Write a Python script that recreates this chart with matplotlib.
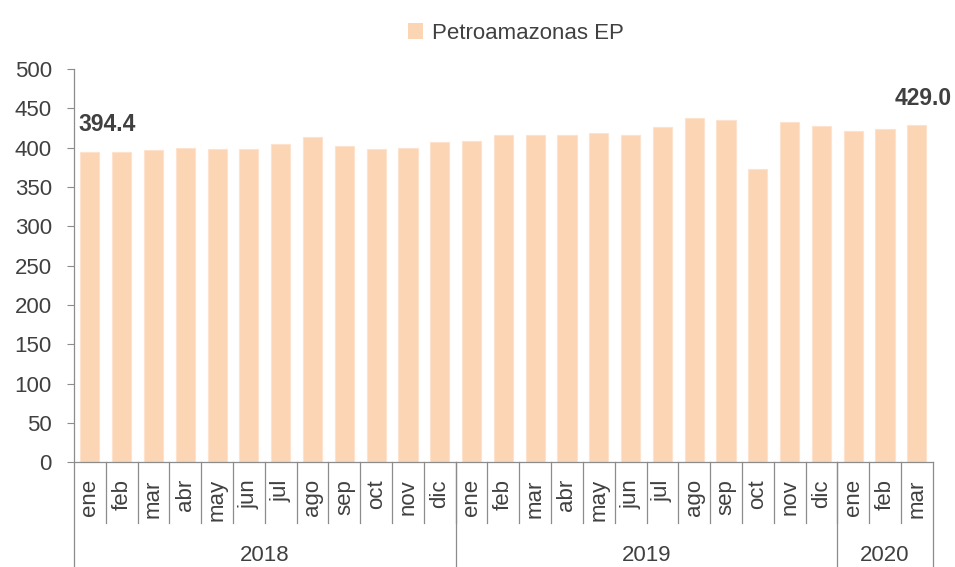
import numpy as np
import matplotlib
matplotlib.use('Agg')
import matplotlib.pyplot as plt
import matplotlib.transforms as mtrans
from matplotlib.patches import Patch

plt.rcParams['font.family'] = 'Liberation Sans'

months = ['ene', 'feb', 'mar', 'abr', 'may', 'jun', 'jul', 'ago', 'sep', 'oct', 'nov', 'dic',
          'ene', 'feb', 'mar', 'abr', 'may', 'jun', 'jul', 'ago', 'sep', 'oct', 'nov', 'dic',
          'ene', 'feb', 'mar']
years = ['2018', '2019', '2020']
year_counts = [12, 12, 3]
values = [394.4, 394.0, 397.0, 400.0, 398.7, 398.7, 405.0, 413.5, 402.0, 398.7, 400.0, 406.8,
          408.5, 416.5, 416.5, 416.5, 418.6, 416.5, 426.3, 437.7, 434.7, 372.9, 433.0, 428.0,
          421.2, 423.3, 429.0]

txt = '#404040'
axc = '#8c8c8c'
bar_c = '#fcd5b5'
fs = 16

fig = plt.figure(figsize=(9.55, 5.67), dpi=100)
ax = fig.add_axes([0.0775, 0.1847, 0.8992, 0.6936])

x = np.arange(len(values))
ax.bar(x, values, width=0.6, color=bar_c, edgecolor='#fde3cd', linewidth=0.8)

ax.set_xlim(-0.5, len(values) - 0.5)
ax.set_ylim(0, 500)
ax.set_yticks(np.arange(0, 501, 50))
ax.tick_params(axis='y', labelsize=fs, colors=txt, length=5, width=0.8, color=axc, pad=11)
ax.set_xticks([])
for s in ['top', 'right']:
    ax.spines[s].set_visible(False)
for s in ['left', 'bottom']:
    ax.spines[s].set_color(axc)
    ax.spines[s].set_linewidth(0.9)

trans = mtrans.blended_transform_factory(ax.transData, ax.transAxes)

# month labels and separators
for i, m in enumerate(months):
    ax.text(i, -0.043, m, rotation=90, ha='center', va='top', fontsize=fs,
            color=txt, transform=trans)
for i in range(1, len(months)):
    ax.plot([i - 0.5, i - 0.5], [0, -0.154], color=axc, lw=0.9,
            transform=trans, clip_on=False)

# year labels and separators
start = 0
edges = [-0.5]
for y, n in zip(years, year_counts):
    ax.text(start + (n - 1) / 2, -0.236, y, ha='center', va='center', fontsize=fs,
            color=txt, transform=trans)
    start += n
    edges.append(start - 0.5)
for e in edges:
    ax.plot([e, e], [0, -0.27], color=axc, lw=0.9, transform=trans, clip_on=False)

# first and last labels
ax.text(0.55, 430, f'{values[0]:.1f}', ha='center', va='center', fontsize=16.5,
        fontweight='bold', color=txt)
ax.text(len(values) - 1 + 0.2, 462, f'{values[-1]:.1f}', ha='center', va='center',
        fontsize=16.5, fontweight='bold', color=txt)

fig.legend(handles=[Patch(facecolor=bar_c, edgecolor='none')], labels=['Petroamazonas EP'],
           loc='upper center', bbox_to_anchor=(0.54, 0.995), frameon=False,
           fontsize=fs, handlelength=0.7, handleheight=0.7, handletextpad=0.4,
           labelcolor=txt)

fig.savefig('out.png', dpi=100)
